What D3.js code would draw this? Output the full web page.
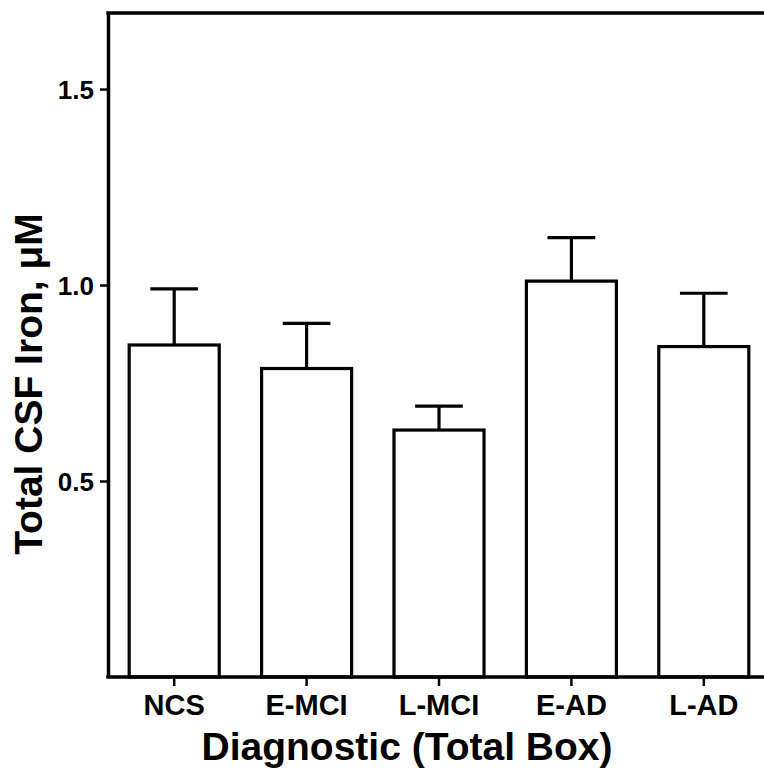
<!DOCTYPE html>
<html>
<head>
<meta charset="utf-8">
<script src="https://cdn.jsdelivr.net/npm/d3@7"></script>
<style>
  html, body { margin: 0; padding: 0; background: #fff; }
  svg { display: block; }
  text { font-family: "Liberation Sans", Arial, sans-serif; font-weight: bold; fill: #000; }
</style>
</head>
<body>
<script>
const categories = ["NCS", "E-MCI", "L-MCI", "E-AD", "L-AD"];
const means = [0.847, 0.787, 0.630, 1.010, 0.843];
const errors = [0.143, 0.115, 0.061, 0.111, 0.136];
const yTicks = [0.5, 1.0, 1.5];
const yMax = 1.694;
const xTitle = "Diagnostic (Total Box)";
const yTitle = "Total CSF Iron, \u03BCM";

(function () {
const W = 764, H = 770;
const svg = d3.select("body").append("svg").attr("width", W).attr("height", H);

const mLeft = 108, mBottom = 677, mTop = 13, rightEnd = 770;

const x = d3.scaleBand().domain(categories).range([mLeft, rightEnd])
  .paddingInner(0.32).paddingOuter(0.16);
const y = d3.scaleLinear().domain([0, yMax]).range([mBottom, mTop]);

const data = categories.map((c, i) => ({ c, m: means[i], e: errors[i] }));

// error bars
const capW = x.bandwidth() * 0.53;
const eb = svg.append("g").attr("stroke", "#000").attr("stroke-width", 3.2).attr("fill", "none");
eb.selectAll("line.stem").data(data).join("line").attr("class", "stem")
  .attr("x1", d => x(d.c) + x.bandwidth() / 2).attr("x2", d => x(d.c) + x.bandwidth() / 2)
  .attr("y1", d => y(d.m)).attr("y2", d => y(d.m + d.e));
eb.selectAll("line.cap").data(data).join("line").attr("class", "cap")
  .attr("x1", d => x(d.c) + x.bandwidth() / 2 - capW / 2)
  .attr("x2", d => x(d.c) + x.bandwidth() / 2 + capW / 2)
  .attr("y1", d => y(d.m + d.e)).attr("y2", d => y(d.m + d.e));

// bars
svg.append("g").selectAll("rect").data(data).join("rect")
  .attr("x", d => x(d.c))
  .attr("y", d => y(d.m))
  .attr("width", x.bandwidth())
  .attr("height", d => y(0) - y(d.m))
  .attr("fill", "#fff")
  .attr("stroke", "#000")
  .attr("stroke-width", 3.2);

// y axis
const yAxis = svg.append("g").attr("transform", `translate(${mLeft},0)`)
  .call(d3.axisLeft(y).tickValues(yTicks).tickFormat(d3.format(".1f")).tickSize(8).tickSizeOuter(0).tickPadding(6));
yAxis.select(".domain").attr("stroke-width", 3.5);
yAxis.selectAll(".tick line").attr("stroke-width", 2.5);
yAxis.selectAll(".tick text").attr("font-size", 26).attr("dy", "0.36em")
  .attr("font-family", "Liberation Sans, Arial, sans-serif").attr("font-weight", "bold");

// x axis
const xAxis = svg.append("g").attr("transform", `translate(0,${mBottom})`)
  .call(d3.axisBottom(x).tickSize(9).tickSizeOuter(0).tickPadding(8));
xAxis.select(".domain").remove();
xAxis.selectAll(".tick line").attr("stroke-width", 2.5);
xAxis.selectAll(".tick text").attr("font-size", 29)
  .attr("font-family", "Liberation Sans, Arial, sans-serif").attr("font-weight", "bold");

// baseline and top frame line
svg.append("line").attr("x1", mLeft - 1.75).attr("x2", W).attr("y1", y(0)).attr("y2", y(0))
  .attr("stroke", "#000").attr("stroke-width", 3.5);
svg.append("line").attr("x1", mLeft - 1.75).attr("x2", W).attr("y1", y(yMax)).attr("y2", y(yMax))
  .attr("stroke", "#000").attr("stroke-width", 3.5);

// titles
svg.append("text").attr("x", 407).attr("y", 760).attr("text-anchor", "middle")
  .attr("font-size", 39).text(xTitle);
svg.append("text").attr("transform", `translate(42,384) rotate(-90)`).attr("text-anchor", "middle")
  .attr("font-size", 39).text(yTitle);
})();
</script>
</body>
</html>
